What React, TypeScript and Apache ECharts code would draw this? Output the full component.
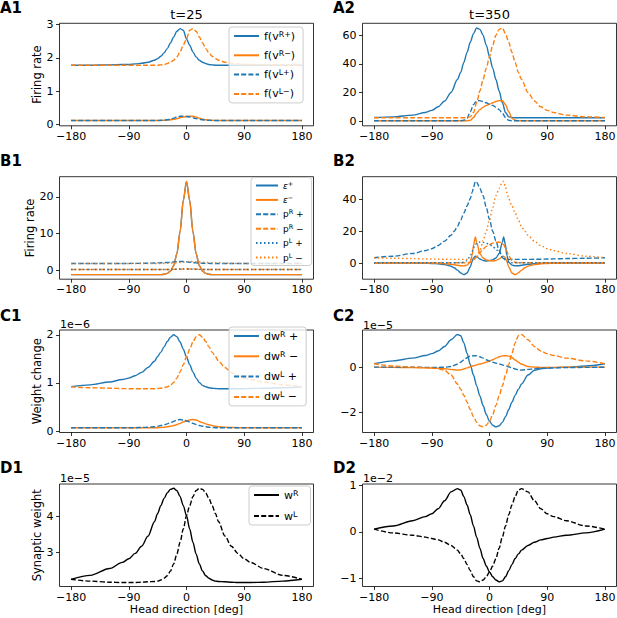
import React, { useEffect, useRef } from 'react';
import * as echarts from 'echarts';

const FONT = 'DejaVu Sans';
const BLUE = '#1f77b4';
const ORANGE = '#ff7f0e';
const BLACK = '#000000';
const SOLID: any = 'solid';
const DASHED: any = [5, 2.2];
const DOTTED: any = [1.5, 2.5];

// head direction sample positions (deg)
const HD = [-180, -150, -120, -100, -90, -80, -70, -60, -50, -45, -40, -35, -30, -25, -20, -15, -10, -5, 0,
  5, 10, 15, 20, 25, 30, 35, 40, 45, 50, 60, 70, 80, 90, 100, 120, 150, 180];
const HD_B2 = [-180, -150, -120, -100, -90, -80, -70, -60, -55, -50, -45, -40, -35, -30, -27, -25, -22, -20, -15, -10, -5, 0,
  5, 10, 15, 20, 22, 25, 27, 30, 35, 40, 45, 50, 55, 60, 70, 80, 90, 100, 120, 150, 180];
const X_TICKS = [-180, -90, 0, 90, 180];

// A1 (t=25) firing rates
const A1_fvRp = [1.78, 1.78, 1.79, 1.80, 1.80, 1.82, 1.84, 1.87, 1.93, 1.98, 2.05, 2.15, 2.28, 2.45, 2.63, 2.80, 2.88, 2.83, 2.57, 2.38, 2.18, 2.03, 1.93, 1.87, 1.83, 1.80, 1.79, 1.78, 1.78, 1.78, 1.78, 1.78, 1.78, 1.78, 1.78, 1.78, 1.78];
const A1_fvRm = [0.12, 0.12, 0.12, 0.12, 0.12, 0.12, 0.12, 0.12, 0.12, 0.12, 0.12, 0.125, 0.13, 0.14, 0.155, 0.175, 0.2, 0.225, 0.24, 0.25, 0.245, 0.225, 0.19, 0.16, 0.14, 0.13, 0.125, 0.12, 0.12, 0.12, 0.12, 0.12, 0.12, 0.12, 0.12, 0.12, 0.12];
const A1_fvLp = [0.12, 0.12, 0.12, 0.12, 0.12, 0.12, 0.12, 0.12, 0.12, 0.12, 0.125, 0.13, 0.14, 0.16, 0.19, 0.225, 0.245, 0.25, 0.24, 0.225, 0.2, 0.175, 0.155, 0.14, 0.13, 0.125, 0.12, 0.12, 0.12, 0.12, 0.12, 0.12, 0.12, 0.12, 0.12, 0.12, 0.12];
const A1_fvLm = [1.78, 1.78, 1.78, 1.78, 1.78, 1.78, 1.78, 1.78, 1.78, 1.78, 1.79, 1.80, 1.83, 1.87, 1.93, 2.03, 2.18, 2.38, 2.57, 2.83, 2.88, 2.80, 2.63, 2.45, 2.28, 2.15, 2.05, 1.98, 1.93, 1.87, 1.84, 1.82, 1.80, 1.80, 1.79, 1.78, 1.78];

// A2 (t=350) firing rates
const A2_fvRp = [2.5, 3.0, 4.2, 6.0, 7.5, 10, 14, 20, 29, 34, 41, 48, 55, 61, 65, 64, 60, 53, 45, 37, 29, 21, 13, 6, 3, 2.5, 2.4, 2.4, 2.4, 2.4, 2.4, 2.4, 2.4, 2.4, 2.4, 2.4, 2.4];
const A2_fvRm = [0.3, 0.3, 0.3, 0.3, 0.3, 0.3, 0.3, 0.3, 0.3, 0.3, 0.3, 0.3, 0.5, 2.5, 5.5, 8, 9.8, 11, 11.8, 12.8, 13.7, 14.3, 14.2, 11.5, 6.5, 2, 0.6, 0.3, 0.3, 0.3, 0.3, 0.3, 0.3, 0.3, 0.3, 0.3, 0.3];
const A2_fvLp = [0.3, 0.3, 0.3, 0.3, 0.3, 0.3, 0.3, 0.3, 0.3, 0.3, 0.6, 2, 6.5, 11.5, 14.2, 14.3, 13.7, 12.8, 11.8, 11, 9.8, 8, 5.5, 2.5, 0.5, 0.3, 0.3, 0.3, 0.3, 0.3, 0.3, 0.3, 0.3, 0.3, 0.3, 0.3, 0.3];
const A2_fvLm = [2.4, 2.4, 2.4, 2.4, 2.4, 2.4, 2.4, 2.4, 2.4, 2.4, 2.4, 2.5, 3, 6, 13, 21, 29, 37, 45, 53, 60, 64, 65, 61, 55, 48, 41, 34, 29, 20, 14, 10, 7.5, 6.0, 4.2, 3.0, 2.5];

// B1 (t=25)
const B1_epsP = [-1.25, -1.25, -1.25, -1.25, -1.25, -1.25, -1.25, -1.25, -1.25, -1.25, -1.25, -1.15, -0.9, -0.3, 1.2, 4.5, 10.5, 19, 24.2, 19, 10.5, 4.5, 1.2, -0.3, -0.9, -1.15, -1.25, -1.25, -1.25, -1.25, -1.25, -1.25, -1.25, -1.25, -1.25, -1.25, -1.25];
const B1_epsM = [-1.25, -1.25, -1.25, -1.25, -1.25, -1.25, -1.25, -1.25, -1.25, -1.25, -1.25, -1.15, -0.9, -0.3, 1.2, 4.5, 10.5, 19, 24.2, 19, 10.5, 4.5, 1.2, -0.3, -0.9, -1.15, -1.25, -1.25, -1.25, -1.25, -1.25, -1.25, -1.25, -1.25, -1.25, -1.25, -1.25];
const B1_pRp = [1.8, 1.8, 1.8, 1.8, 1.8, 1.82, 1.84, 1.87, 1.92, 1.95, 1.98, 2.02, 2.07, 2.13, 2.2, 2.28, 2.33, 2.32, 2.25, 2.15, 2.05, 1.97, 1.9, 1.86, 1.83, 1.81, 1.8, 1.8, 1.8, 1.8, 1.8, 1.8, 1.8, 1.8, 1.8, 1.8, 1.8];
const B1_pRm = [0.15, 0.15, 0.15, 0.15, 0.15, 0.15, 0.15, 0.15, 0.15, 0.15, 0.15, 0.15, 0.15, 0.16, 0.18, 0.2, 0.23, 0.27, 0.3, 0.31, 0.29, 0.25, 0.21, 0.18, 0.16, 0.15, 0.15, 0.15, 0.15, 0.15, 0.15, 0.15, 0.15, 0.15, 0.15, 0.15, 0.15];
const B1_pLp = [0.15, 0.15, 0.15, 0.15, 0.15, 0.15, 0.15, 0.15, 0.15, 0.15, 0.15, 0.15, 0.16, 0.18, 0.21, 0.25, 0.29, 0.31, 0.3, 0.27, 0.23, 0.2, 0.18, 0.16, 0.15, 0.15, 0.15, 0.15, 0.15, 0.15, 0.15, 0.15, 0.15, 0.15, 0.15, 0.15, 0.15];
const B1_pLm = [1.8, 1.8, 1.8, 1.8, 1.8, 1.8, 1.8, 1.8, 1.8, 1.8, 1.8, 1.81, 1.83, 1.86, 1.9, 1.97, 2.05, 2.15, 2.25, 2.32, 2.33, 2.28, 2.2, 2.13, 2.07, 2.02, 1.98, 1.95, 1.92, 1.87, 1.84, 1.82, 1.8, 1.8, 1.8, 1.8, 1.8];

// B2 (t=350)
const B2_epsP = [0, 0, -0.1, -0.2, -0.3, -0.5, -1.0, -2.0, -3.0, -4.5, -6.2, -7.3, -6.3, -2.5, 1, 3.2, 4.3, 4, 2.5, 1.6, 1.3, 1.5, 2, 3.2, 6, 13, 16.5, 11, 5, 0.5, -1.3, -1.8, -1.7, -1.4, -1.1, -0.8, -0.4, -0.2, -0.1, 0, 0, 0, 0];
const B2_epsM = [0, 0, 0, 0, -0.1, -0.2, -0.4, -0.8, -1.1, -1.4, -1.7, -1.8, -1.3, 0.5, 5, 11, 16.5, 13, 6, 3.2, 2, 1.5, 1.3, 1.6, 2.5, 4, 4.3, 3.2, 1, -2.5, -6.3, -7.3, -6.2, -4.5, -3.0, -2.0, -1.0, -0.5, -0.3, -0.2, -0.1, 0, 0];
const B2_pRp = [3.3, 4.3, 6, 7.8, 9, 11, 13.8, 17.5, 20, 23, 27, 31.5, 36, 40.5, 44.5, 47.5, 51.5, 51, 47, 42.5, 35, 27.5, 20, 14, 8, 3.5, 2.8, 2.4, 2.3, 2.3, 2.3, 2.3, 2.3, 2.3, 2.3, 2.3, 2.35, 2.4, 2.5, 2.6, 2.8, 3.0, 3.3];
const B2_pRm = [0.2, 0.2, 0.2, 0.2, 0.2, 0.2, 0.2, 0.2, 0.2, 0.2, 0.2, 0.2, 0.2, 0.6, 1.2, 1.8, 3, 4, 6.5, 8.8, 10.5, 11.7, 12.5, 13, 13.2, 12.5, 11.5, 9.5, 7.5, 4.5, 1.5, 0.5, 0.2, 0.2, 0.2, 0.2, 0.2, 0.2, 0.2, 0.2, 0.2, 0.2, 0.2];
const B2_pLp = [0.2, 0.2, 0.2, 0.2, 0.2, 0.2, 0.2, 0.2, 0.2, 0.2, 0.2, 0.5, 1.5, 4.5, 7.5, 9.5, 11.5, 12.5, 13.2, 13, 12.5, 11.7, 10.5, 8.8, 6.5, 4, 3, 1.8, 1.2, 0.6, 0.2, 0.2, 0.2, 0.2, 0.2, 0.2, 0.2, 0.2, 0.2, 0.2, 0.2, 0.2, 0.2];
const B2_pLm = [3.3, 3.0, 2.8, 2.6, 2.5, 2.4, 2.35, 2.3, 2.3, 2.3, 2.3, 2.3, 2.3, 2.3, 2.3, 2.4, 2.8, 3.5, 8, 14, 20, 27.5, 35, 42.5, 47, 51, 51.5, 47.5, 44.5, 40.5, 36, 31.5, 27, 23, 20, 17.5, 13.8, 11, 9, 7.8, 6, 4.3, 3.3];

// C1 (t=25) weight change, units of 1e-6
const C1_dwRp = [0.92, 0.96, 1.02, 1.07, 1.1, 1.15, 1.22, 1.32, 1.45, 1.55, 1.64, 1.75, 1.86, 1.95, 2.0, 1.96, 1.85, 1.7, 1.54, 1.38, 1.23, 1.1, 1.01, 0.95, 0.92, 0.9, 0.89, 0.885, 0.88, 0.88, 0.88, 0.88, 0.88, 0.885, 0.89, 0.9, 0.92];
const C1_dwRm = [0.07, 0.07, 0.07, 0.07, 0.07, 0.07, 0.07, 0.07, 0.07, 0.07, 0.075, 0.08, 0.09, 0.1, 0.115, 0.135, 0.16, 0.19, 0.21, 0.23, 0.24, 0.23, 0.2, 0.175, 0.15, 0.13, 0.115, 0.1, 0.09, 0.08, 0.075, 0.07, 0.07, 0.07, 0.07, 0.07, 0.07];
const C1_dwLp = [0.07, 0.07, 0.07, 0.07, 0.07, 0.07, 0.075, 0.08, 0.09, 0.1, 0.115, 0.13, 0.15, 0.175, 0.2, 0.23, 0.24, 0.23, 0.21, 0.19, 0.16, 0.135, 0.115, 0.1, 0.09, 0.08, 0.075, 0.07, 0.07, 0.07, 0.07, 0.07, 0.07, 0.07, 0.07, 0.07, 0.07];
const C1_dwLm = [0.92, 0.9, 0.89, 0.885, 0.88, 0.88, 0.88, 0.88, 0.88, 0.885, 0.89, 0.9, 0.92, 0.95, 1.01, 1.1, 1.23, 1.38, 1.54, 1.7, 1.85, 1.96, 2.0, 1.95, 1.86, 1.75, 1.64, 1.55, 1.45, 1.32, 1.22, 1.15, 1.1, 1.07, 1.02, 0.96, 0.92];

// C2 (t=350) weight change, units of 1e-5
const C2_dwRp = [0.15, 0.28, 0.4, 0.52, 0.6, 0.72, 0.92, 1.22, 1.45, 1.4, 1.08, 0.62, 0.12, -0.35, -0.83, -1.28, -1.7, -2.1, -2.4, -2.58, -2.65, -2.6, -2.45, -2.2, -1.88, -1.55, -1.25, -0.98, -0.75, -0.35, -0.14, -0.07, -0.04, -0.02, 0.0, 0.05, 0.15];
const C2_dwRm = [0.0, -0.01, -0.02, -0.03, -0.04, -0.05, -0.07, -0.1, -0.13, -0.12, -0.08, -0.03, 0.02, 0.06, 0.1, 0.14, 0.18, 0.22, 0.27, 0.33, 0.4, 0.46, 0.5, 0.51, 0.49, 0.42, 0.32, 0.22, 0.13, 0.03, 0.0, -0.01, -0.01, -0.01, 0.0, 0.0, 0.0];
const C2_dwLp = [0.0, 0.0, 0.0, -0.01, -0.01, -0.01, 0.0, 0.03, 0.13, 0.22, 0.32, 0.42, 0.49, 0.51, 0.5, 0.46, 0.4, 0.33, 0.27, 0.22, 0.18, 0.14, 0.1, 0.06, 0.02, -0.03, -0.08, -0.12, -0.13, -0.1, -0.07, -0.05, -0.04, -0.03, -0.02, -0.01, 0.0];
const C2_dwLm = [0.15, 0.05, 0.0, -0.02, -0.04, -0.07, -0.14, -0.35, -0.75, -0.98, -1.25, -1.55, -1.88, -2.2, -2.45, -2.6, -2.65, -2.58, -2.4, -2.1, -1.7, -1.28, -0.83, -0.35, 0.12, 0.62, 1.08, 1.4, 1.45, 1.22, 0.92, 0.72, 0.6, 0.52, 0.4, 0.28, 0.15];

// D1 (t=25) synaptic weight, units of 1e-5
const D1_wR = [2.25, 2.36, 2.55, 2.72, 2.82, 2.97, 3.17, 3.45, 3.85, 4.08, 4.3, 4.5, 4.65, 4.75, 4.78, 4.72, 4.55, 4.3, 4.02, 3.65, 3.28, 2.95, 2.68, 2.48, 2.35, 2.28, 2.23, 2.2, 2.19, 2.18, 2.17, 2.16, 2.16, 2.16, 2.17, 2.2, 2.25];
const D1_wL = [2.25, 2.2, 2.17, 2.16, 2.16, 2.16, 2.17, 2.18, 2.19, 2.2, 2.23, 2.28, 2.35, 2.48, 2.68, 2.95, 3.28, 3.65, 4.02, 4.3, 4.55, 4.72, 4.78, 4.75, 4.65, 4.5, 4.3, 4.08, 3.85, 3.45, 3.17, 2.97, 2.82, 2.72, 2.55, 2.36, 2.25];

// D2 (t=350) synaptic weight, units of 1e-2
const D2_wR = [0.06, 0.13, 0.24, 0.33, 0.39, 0.5, 0.67, 0.86, 0.93, 0.9, 0.76, 0.58, 0.37, 0.13, -0.11, -0.35, -0.57, -0.73, -0.86, -0.96, -1.03, -1.07, -1.05, -0.96, -0.83, -0.7, -0.57, -0.47, -0.39, -0.29, -0.22, -0.17, -0.14, -0.11, -0.07, -0.02, 0.06];
const D2_wL = [0.06, -0.02, -0.07, -0.11, -0.14, -0.17, -0.22, -0.29, -0.39, -0.47, -0.57, -0.7, -0.83, -0.96, -1.05, -1.07, -1.03, -0.96, -0.86, -0.73, -0.57, -0.35, -0.11, 0.13, 0.37, 0.58, 0.76, 0.9, 0.93, 0.86, 0.67, 0.5, 0.39, 0.33, 0.24, 0.13, 0.06];

// legend labels (series names) and their rich-text rendering with superscripts
const A_NAMES = ['f(vᴿ⁺)', 'f(vᴿ⁻)', 'f(vᴸ⁺)', 'f(vᴸ⁻)'];
const B_NAMES = ['ε⁺', 'ε⁻', 'pᴿ +', 'pᴿ −', 'pᴸ +', 'pᴸ −'];
const C_NAMES = ['dwᴿ +', 'dwᴿ −', 'dwᴸ +', 'dwᴸ −'];
const D_NAMES = ['wᴿ', 'wᴸ'];
const RICH_LABELS: Record<string, string> = {
  'f(vᴿ⁺)': 'f(v{s|R+})', 'f(vᴿ⁻)': 'f(v{s|R−})', 'f(vᴸ⁺)': 'f(v{s|L+})', 'f(vᴸ⁻)': 'f(v{s|L−})',
  'ε⁺': '{i|ε}{s|+}', 'ε⁻': '{i|ε}{s|−}', 'pᴿ +': 'p{s|R} +', 'pᴿ −': 'p{s|R} −', 'pᴸ +': 'p{s|L} +', 'pᴸ −': 'p{s|L} −',
  'dwᴿ +': 'dw{s|R} +', 'dwᴿ −': 'dw{s|R} −', 'dwᴸ +': 'dw{s|L} +', 'dwᴸ −': 'dw{s|L} −',
  'wᴿ': 'w{s|R}', 'wᴸ': 'w{s|L}',
};

type LineDef = { name?: string; y: number[]; color: string; dash: any };
type Panel = { x: number[]; yMin: number; yMax: number; yTicks: number[]; yName?: string; yNameGap?: number; xName?: string; lines: LineDef[] };

const PANELS: Panel[] = [
  { x: HD, yMin: -0.04, yMax: 3.04, yTicks: [0, 1, 2, 3], yName: 'Firing rate', yNameGap: 16, lines: [
    { name: A_NAMES[0], y: A1_fvRp, color: BLUE, dash: SOLID },
    { name: A_NAMES[1], y: A1_fvRm, color: ORANGE, dash: SOLID },
    { name: A_NAMES[2], y: A1_fvLp, color: BLUE, dash: DASHED },
    { name: A_NAMES[3], y: A1_fvLm, color: ORANGE, dash: DASHED },
  ] },
  { x: HD, yMin: -3.25, yMax: 68.25, yTicks: [0, 20, 40, 60], lines: [
    { y: A2_fvRp, color: BLUE, dash: SOLID },
    { y: A2_fvRm, color: ORANGE, dash: SOLID },
    { y: A2_fvLp, color: BLUE, dash: DASHED },
    { y: A2_fvLm, color: ORANGE, dash: DASHED },
  ] },
  { x: HD, yMin: -2.5, yMax: 25.5, yTicks: [0, 10, 20], yName: 'Firing rate', yNameGap: 23, lines: [
    { name: B_NAMES[0], y: B1_epsP, color: BLUE, dash: SOLID },
    { name: B_NAMES[1], y: B1_epsM, color: ORANGE, dash: SOLID },
    { name: B_NAMES[2], y: B1_pRp, color: BLUE, dash: DASHED },
    { name: B_NAMES[3], y: B1_pRm, color: ORANGE, dash: DASHED },
    { name: B_NAMES[4], y: B1_pLp, color: BLUE, dash: DOTTED },
    { name: B_NAMES[5], y: B1_pLm, color: ORANGE, dash: DOTTED },
  ] },
  { x: HD_B2, yMin: -10.2, yMax: 54.4, yTicks: [0, 20, 40], lines: [
    { y: B2_epsP, color: BLUE, dash: SOLID },
    { y: B2_epsM, color: ORANGE, dash: SOLID },
    { y: B2_pRp, color: BLUE, dash: DASHED },
    { y: B2_pRm, color: ORANGE, dash: DASHED },
    { y: B2_pLp, color: BLUE, dash: DOTTED },
    { y: B2_pLm, color: ORANGE, dash: DOTTED },
  ] },
  { x: HD, yMin: -0.03, yMax: 2.1, yTicks: [0, 1, 2], yName: 'Weight change', yNameGap: 16, lines: [
    { name: C_NAMES[0], y: C1_dwRp, color: BLUE, dash: SOLID },
    { name: C_NAMES[1], y: C1_dwRm, color: ORANGE, dash: SOLID },
    { name: C_NAMES[2], y: C1_dwLp, color: BLUE, dash: DASHED },
    { name: C_NAMES[3], y: C1_dwLm, color: ORANGE, dash: DASHED },
  ] },
  { x: HD, yMin: -2.9, yMax: 1.65, yTicks: [-2, 0], lines: [
    { y: C2_dwRp, color: BLUE, dash: SOLID },
    { y: C2_dwRm, color: ORANGE, dash: SOLID },
    { y: C2_dwLp, color: BLUE, dash: DASHED },
    { y: C2_dwLm, color: ORANGE, dash: DASHED },
  ] },
  { x: HD, yMin: 2.05, yMax: 4.9, yTicks: [3, 4], yName: 'Synaptic weight', yNameGap: 16, xName: 'Head direction [deg]', lines: [
    { name: D_NAMES[0], y: D1_wR, color: BLACK, dash: SOLID },
    { name: D_NAMES[1], y: D1_wL, color: BLACK, dash: DASHED },
  ] },
  { x: HD, yMin: -1.17, yMax: 1.03, yTicks: [-1, 0, 1], xName: 'Head direction [deg]', lines: [
    { y: D2_wR, color: BLACK, dash: SOLID },
    { y: D2_wL, color: BLACK, dash: DASHED },
  ] },
];

const COL_LEFT = [59.5, 362.5];
const ROW_TOP = [23.3, 176.7, 330, 484];
const PLOT_W = 254;
const PLOT_H = 102.5;

const fmt = (v: number) => (v < 0 ? '−' + Math.abs(v) : String(v));

function buildOption() {
  const labelStyle = { fontSize: 11, color: '#000', fontFamily: FONT };
  const tick = (vals: number[]) => ({ show: true, customValues: vals, length: 3.5, inside: false, lineStyle: { color: '#000', width: 0.8 } });
  const grid = PANELS.map((_, i) => ({
    left: COL_LEFT[i % 2], top: ROW_TOP[Math.floor(i / 2)], width: PLOT_W, height: PLOT_H,
    show: true, borderColor: '#000', borderWidth: 0.8, backgroundColor: 'transparent',
    containLabel: false, outerBoundsMode: 'none',
  }));
  const xAxis = PANELS.map((p, i) => ({
    gridIndex: i, type: 'value', min: -198, max: 198, position: 'bottom',
    axisLine: { show: false, onZero: false }, splitLine: { show: false },
    axisTick: tick(X_TICKS),
    axisLabel: { ...labelStyle, customValues: X_TICKS, margin: 5, formatter: fmt },
    name: p.xName || '', nameLocation: 'middle', nameGap: 17,
    nameTextStyle: { fontSize: 11, color: '#000', fontFamily: FONT },
  }));
  const yAxis = PANELS.map((p, i) => ({
    gridIndex: i, type: 'value', min: p.yMin, max: p.yMax, position: 'left',
    axisLine: { show: false, onZero: false }, splitLine: { show: false },
    axisTick: tick(p.yTicks),
    axisLabel: { ...labelStyle, customValues: p.yTicks, margin: 6, formatter: fmt },
    name: p.yName || '', nameLocation: 'middle', nameGap: p.yNameGap || 16,
    nameTextStyle: { fontSize: 11.5, color: '#000', fontFamily: FONT },
  }));
  const series: any[] = [];
  PANELS.forEach((p, gi) => {
    p.lines.forEach((l) => {
      series.push({
        type: 'line', name: l.name, xAxisIndex: gi, yAxisIndex: gi,
        data: p.x.map((x, j) => [x, l.y[j]]),
        symbol: 'none', showSymbol: false, smooth: 0.3, smoothMonotone: 'x',
        lineStyle: { color: l.color, width: 1.4, type: l.dash, cap: 'butt' },
        itemStyle: { color: l.color },
        emphasis: { disabled: true }, silent: true,
      });
    });
  });
  const legendBase = {
    orient: 'vertical', selectedMode: false,
    backgroundColor: 'rgba(255,255,255,0.8)', borderColor: '#cccccc', borderWidth: 1, borderRadius: 3,
    itemStyle: { color: 'rgba(0,0,0,0)', opacity: 0, borderWidth: 0 },
    formatter: (name: string) => RICH_LABELS[name] || name,
  };
  const richFor = (size: number, lh: number) => ({
    s: { fontSize: size * 0.72, verticalAlign: 'top', lineHeight: lh, fontFamily: FONT, color: '#000' },
    i: { fontSize: size, fontStyle: 'italic', lineHeight: lh, fontFamily: FONT, color: '#000' },
  });
  const legend = [
    { ...legendBase, data: A_NAMES, left: 229, top: 27, itemWidth: 25, itemHeight: 12, itemGap: 7.3, padding: [3, 8, 3, 4],
      textStyle: { fontSize: 11, color: '#000', fontFamily: FONT, lineHeight: 12, rich: richFor(11, 12) } },
    { ...legendBase, data: B_NAMES, left: 251, top: 177.5, itemWidth: 22, itemHeight: 10, itemGap: 4.4, padding: [3, 8, 3, 4],
      textStyle: { fontSize: 9, color: '#000', fontFamily: FONT, lineHeight: 10, rich: richFor(9, 10) } },
    { ...legendBase, data: C_NAMES, left: 229, top: 327, itemWidth: 25, itemHeight: 12, itemGap: 8.3, padding: [3, 8, 3, 4],
      textStyle: { fontSize: 11, color: '#000', fontFamily: FONT, lineHeight: 12, rich: richFor(11, 12) } },
    { ...legendBase, data: D_NAMES, left: 249, top: 486, itemWidth: 25, itemHeight: 12, itemGap: 9, padding: [3, 12, 3, 4],
      textStyle: { fontSize: 11, color: '#000', fontFamily: FONT, lineHeight: 12, rich: richFor(11, 12) } },
  ];
  const texts = [
    { t: 'A1', x: 0, y: 7.5, s: 15, b: true, a: 'left' },
    { t: 'A2', x: 333, y: 7.5, s: 15, b: true, a: 'left' },
    { t: 'B1', x: 0, y: 160.5, s: 15, b: true, a: 'left' },
    { t: 'B2', x: 333, y: 160.5, s: 15, b: true, a: 'left' },
    { t: 'C1', x: 0, y: 316, s: 15, b: true, a: 'left' },
    { t: 'C2', x: 333, y: 316, s: 15, b: true, a: 'left' },
    { t: 'D1', x: 0, y: 467.5, s: 15, b: true, a: 'left' },
    { t: 'D2', x: 333, y: 467.5, s: 15, b: true, a: 'left' },
    { t: 't=25', x: 186.5, y: 14, s: 13, b: false, a: 'center' },
    { t: 't=350', x: 489.5, y: 14, s: 13, b: false, a: 'center' },
    { t: '1e−6', x: 60, y: 324, s: 11, b: false, a: 'left' },
    { t: '1e−5', x: 363, y: 325, s: 11, b: false, a: 'left' },
    { t: '1e−5', x: 60, y: 478, s: 11, b: false, a: 'left' },
    { t: '1e−2', x: 363, y: 478, s: 11, b: false, a: 'left' },
  ];
  const graphic = texts.map((t) => ({
    type: 'text', x: t.x, y: t.y, silent: true, z: 100,
    style: { text: t.t, fontSize: t.s, fontWeight: t.b ? 'bold' : 'normal', fontFamily: FONT, fill: '#000', align: t.a, verticalAlign: 'middle' },
  }));
  return { animation: false, backgroundColor: '#ffffff', grid, xAxis, yAxis, series, legend, graphic };
}

export default function App() {
  const ref = useRef<HTMLDivElement>(null);
  useEffect(() => {
    if (!ref.current) return;
    const chart = echarts.init(ref.current, null, { renderer: 'svg' });
    chart.setOption(buildOption() as any);
    return () => chart.dispose();
  }, []);
  return <div ref={ref} style={{ position: 'fixed', left: 0, top: 0, width: 617, height: 618 }} />;
}
